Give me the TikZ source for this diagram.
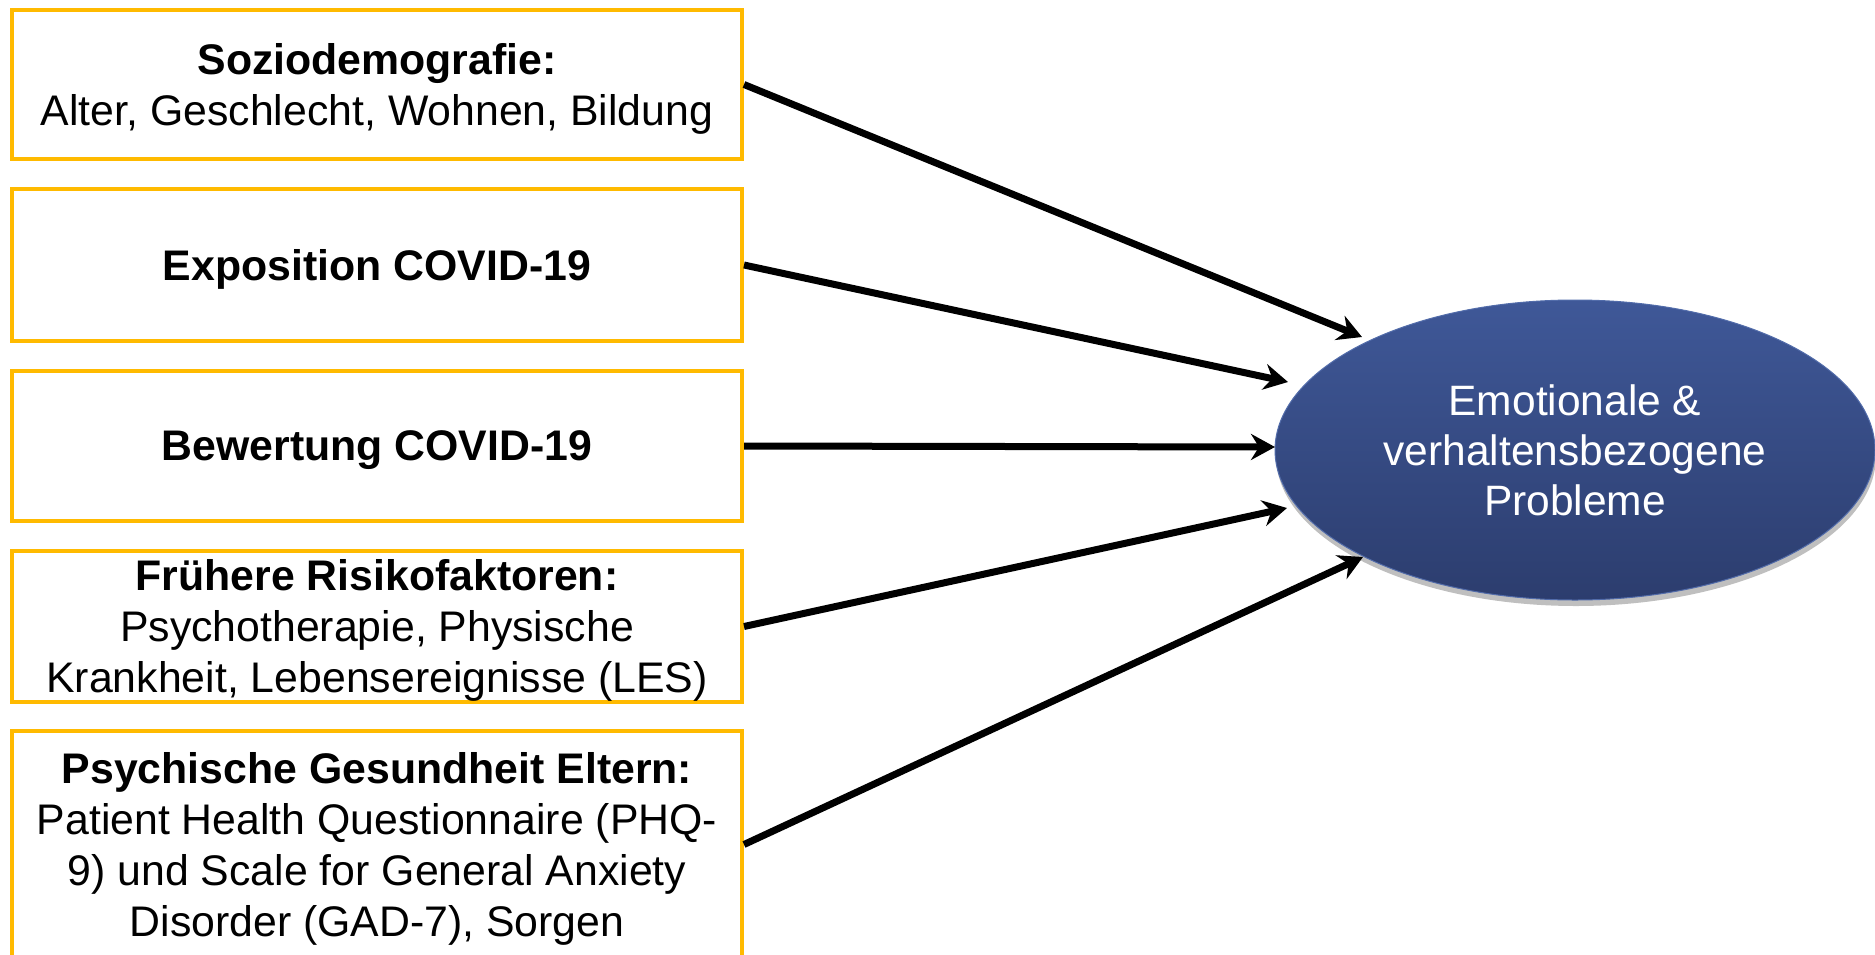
\documentclass[tikz,border=0pt]{standalone}
\usepackage{fontspec}
\setmainfont{Liberation Sans}
\usetikzlibrary{arrows.meta,shapes.geometric,shadows}
\definecolor{boxorange}{RGB}{255,186,0}
\definecolor{elltop}{RGB}{63,88,152}
\definecolor{ellbot}{RGB}{44,61,110}
\definecolor{ellline}{RGB}{82,108,170}
\newcommand{\bstrut}{\rule{0pt}{39pt}}
\begin{document}
\begin{tikzpicture}[x=1pt,y=-1pt,
  fbox/.style={draw=boxorange, line width=4pt, fill=white, minimum width=730pt,
    inner sep=0pt, align=center, font=\fontsize{42.8pt}{51pt}\selectfont},
  ell/.style={ellipse, minimum width=600pt, minimum height=300pt, inner sep=0pt,
    top color=elltop, bottom color=ellbot, draw=ellline, line width=1pt,
    text=white, align=center, font=\fontsize{42.5pt}{50pt}\selectfont,
    drop shadow={shadow xshift=1pt, shadow yshift=-6pt, opacity=0.25, fill=black}},
  arr/.style={line width=7pt, -{Stealth[length=24pt,width=26pt,inset=8pt]}}]
\useasboundingbox (0,0) rectangle (1875,954);
\fill[white] (0,0) rectangle (1875,954);

\node[fbox, minimum height=149pt] (b1) at (377,84.5)
  {\bstrut\textbf{Soziodemografie:}\\Alter, Geschlecht, Wohnen, Bildung};
\node[fbox, minimum height=152pt] (b2) at (377,265) {\bstrut\textbf{Exposition COVID-19}};
\node[fbox, minimum height=150pt] (b3) at (377,446) {\bstrut\textbf{Bewertung COVID-19}};
\node[fbox, minimum height=151pt] (b4) at (377,626.5)
  {\bstrut\textbf{Frühere Risikofaktoren:}\\Psychotherapie, Physische\\Krankheit, Lebensereignisse (LES)};
\node[fbox, minimum height=227pt] (b5) at (377,844.5)
  {\bstrut\textbf{Psychische Gesundheit Eltern:}\\Patient Health Questionnaire (PHQ-\\9) und Scale for General Anxiety\\Disorder (GAD-7), Sorgen};

\node[ell] (e) at (1575,450) {Emotionale \&\\verhaltensbezogene\\Probleme};

\coordinate (t1) at (1362,337);
\coordinate (t2) at (1288,382);
\coordinate (t3) at (1275,447);
\coordinate (t4) at (1287,508);
\coordinate (t5) at (1363,557);

\draw[arr] (b1.east) -- (t1);
\draw[arr] (b2.east) -- (t2);
\draw[arr] (b3.east) -- (t3);
\draw[arr] (b4.east) -- (t4);
\draw[arr] (b5.east) -- (t5);
\end{tikzpicture}
\end{document}
